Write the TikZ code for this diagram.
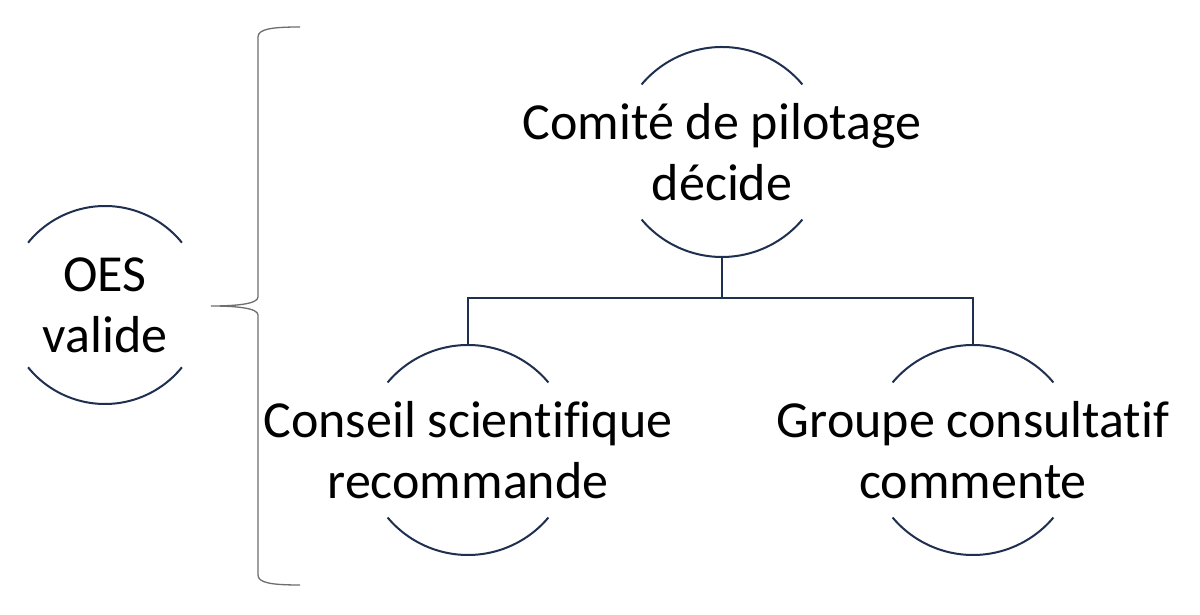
\documentclass[tikz,border=0pt]{standalone}
\usepackage{fontspec}
\setmainfont{Carlito}[Ligatures=NoCommon]
\definecolor{navy}{HTML}{1F2F4F}
\definecolor{bracegray}{HTML}{6E6E6E}
\begin{document}
\begin{tikzpicture}[x=1pt,y=1pt,
  ring/.style={circle, minimum size=#1, inner sep=0pt, outer sep=0pt},
  lbl/.style={inner sep=0pt, align=center, font=\fontsize{52}{61}\selectfont},
  arcline/.style={draw=navy, line width=2pt},
  conn/.style={draw=navy, line width=2pt},
  bracel/.style={draw=bracegray, line width=1.3pt}]
\useasboundingbox (0,0) rectangle (1200,615);
\fill[white] (0,0) rectangle (1200,615);
% circles
\node[ring=198pt] (oes) at (105,310) {};
\node[lbl] (oesT) at (oes) {OES\\valide};
\draw[arcline] (oes.39) arc (39:141:99);
\draw[arcline] (oes.219) arc (219:321:99);
\node[ring=210pt] (cp) at (722,463) {};
\node[lbl] (cpT) at (cp) {Comité de pilotage\\décide};
\draw[arcline] (cp.40) arc (40:140:105);
\draw[arcline] (cp.220) arc (220:320:105);
\node[ring=210pt] (cs) at (468,165) {};
\node[lbl] (csT) at (cs) {Conseil scientifique\\recommande};
\draw[arcline] (cs.40) arc (40:140:105);
\draw[arcline] (cs.220) arc (220:320:105);
\node[ring=210pt] (gc) at (973,165) {};
\node[lbl] (gcT) at (gc) {Groupe consultatif\\commente};
\draw[arcline] (gc.40) arc (40:140:105);
\draw[arcline] (gc.220) arc (220:320:105);
% connectors
\draw[conn] (cp.south) -- ++(0,-41) -| (cs.north);
\draw[conn] (cp.south) -- ++(0,-41) -| (gc.north);
% brace
\coordinate (btop) at (300,588);
\coordinate (btip) at (211,309);
\coordinate (bbot) at (300,30);
\draw[bracel] (btop) .. controls (272,588) and (258,586) .. (258,578) -- (258,318)
  .. controls (258,311) and (236,309) .. (btip)
  .. controls (236,309) and (258,307) .. (258,300) -- (258,40)
  .. controls (258,32) and (272,30) .. (bbot);
\end{tikzpicture}
\end{document}
